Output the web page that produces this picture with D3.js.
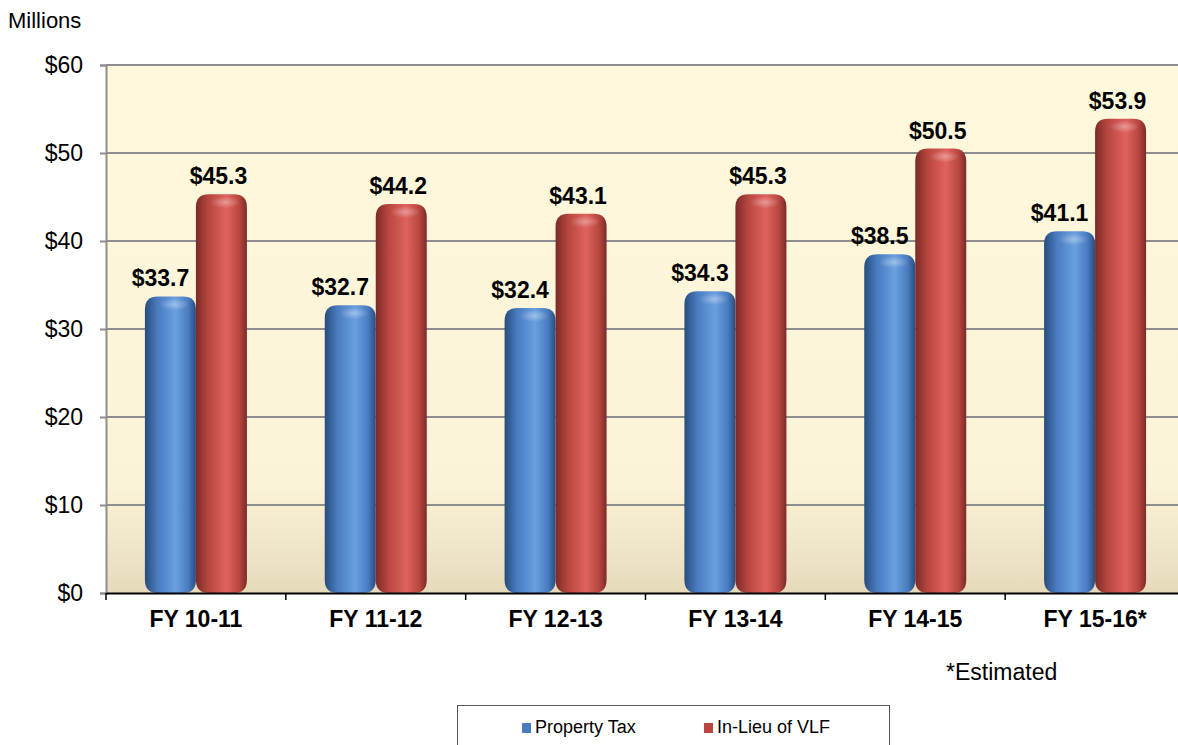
<!DOCTYPE html>
<html>
<head>
<meta charset="utf-8">
<script src="https://cdn.jsdelivr.net/npm/d3@7"></script>
<style>
  body { margin: 0; background: #fff; }
  svg { display: block; font-family: "Liberation Sans", Arial, sans-serif; }
</style>
</head>
<body>
<svg id="chart" width="1178" height="745"></svg>
<script>
// chart data
var years = ["FY 10-11", "FY 11-12", "FY 12-13", "FY 13-14", "FY 14-15", "FY 15-16*"];
var propertyTax = [33.7, 32.7, 32.4, 34.3, 38.5, 41.1];
var inLieuVLF = [45.3, 44.2, 43.1, 45.3, 50.5, 53.9];
var seriesNames = ["Property Tax", "In-Lieu of VLF"];
var yTicks = [0, 10, 20, 30, 40, 50, 60];

var svg = d3.select("#chart");
var plotLeft = 106, plotRight = 1185, plotTop = 65, plotBottom = 593;

var x = d3.scaleBand().domain(years).range([plotLeft, plotRight]).paddingInner(0).paddingOuter(0);
var inner = d3.scaleBand().domain([0, 1]).range([0, 102]);
var y = d3.scaleLinear().domain([0, 60]).range([plotBottom, plotTop]);

var defs = svg.append("defs");

// plot background, pale yellow fading to tan at the base
var bg = defs.append("linearGradient").attr("id", "bg")
  .attr("x1", 0).attr("y1", 0).attr("x2", 0).attr("y2", 1);
bg.append("stop").attr("offset", "0").attr("stop-color", "#fef8dc");
bg.append("stop").attr("offset", "0.8").attr("stop-color", "#fbf3d7");
bg.append("stop").attr("offset", "1").attr("stop-color", "#e6dabb");

// cylinder shading for each series
function barGrad(id, dark, mid, light) {
  var g = defs.append("linearGradient").attr("id", id)
    .attr("x1", 0).attr("y1", 0).attr("x2", 1).attr("y2", 0);
  g.append("stop").attr("offset", "0").attr("stop-color", dark);
  g.append("stop").attr("offset", "0.25").attr("stop-color", mid);
  g.append("stop").attr("offset", "0.6").attr("stop-color", light);
  g.append("stop").attr("offset", "0.85").attr("stop-color", mid);
  g.append("stop").attr("offset", "1").attr("stop-color", dark);
}
barGrad("blue", "#274d7e", "#4a7cc0", "#6a9fe0");
barGrad("red", "#7c2a28", "#b8473f", "#e0625e");

var hl = defs.append("radialGradient").attr("id", "hl")
  .attr("cx", 0.55).attr("cy", 0.5).attr("r", 0.5);
hl.append("stop").attr("offset", "0").attr("stop-color", "#fff").attr("stop-opacity", 0.35);
hl.append("stop").attr("offset", "1").attr("stop-color", "#fff").attr("stop-opacity", 0);

svg.append("rect")
  .attr("x", plotLeft).attr("y", plotTop)
  .attr("width", plotRight - plotLeft).attr("height", plotBottom - plotTop)
  .attr("fill", "url(#bg)");

// gridlines
svg.append("g").selectAll("line")
  .data(yTicks.filter(function (d) { return d > 0; }))
  .join("line")
  .attr("x1", plotLeft).attr("x2", plotRight)
  .attr("y1", function (d) { return y(d); })
  .attr("y2", function (d) { return y(d); })
  .attr("stroke", "#8e8e8e").attr("stroke-width", 2);

// y axis
var yAxis = svg.append("g")
  .attr("transform", "translate(" + plotLeft + ",0)")
  .call(d3.axisLeft(y).tickValues(yTicks).tickSize(6).tickPadding(17)
    .tickFormat(function (d) { return "$" + d; }));
yAxis.select(".domain").attr("stroke", "#8e8e8e").attr("stroke-width", 2);
yAxis.selectAll(".tick line").attr("stroke", "#8e8e8e").attr("stroke-width", 2);
yAxis.selectAll("text").attr("font-size", 23).attr("fill", "#000")
  .attr("font-family", "Liberation Sans, Arial, sans-serif");

// bars
function roundedBar(x0, w, y0, y1, r) {
  var p = d3.path();
  p.moveTo(x0, y1 - r);
  p.lineTo(x0, y0 + r);
  p.quadraticCurveTo(x0, y0, x0 + r, y0);
  p.lineTo(x0 + w - r, y0);
  p.quadraticCurveTo(x0 + w, y0, x0 + w, y0 + r);
  p.lineTo(x0 + w, y1 - r);
  p.quadraticCurveTo(x0 + w, y1, x0 + w - r, y1);
  p.lineTo(x0 + r, y1);
  p.quadraticCurveTo(x0, y1, x0, y1 - r);
  p.closePath();
  return p.toString();
}

var series = [propertyTax, inLieuVLF];
var fills = ["url(#blue)", "url(#red)"];
var labelShift = [-10, -3]; // labels sit a little left of the bar centres
var barsG = svg.append("g");
series.forEach(function (vals, si) {
  var data = years.map(function (yr, i) { return { yr: yr, v: vals[i] }; });
  var bx = function (d) { return x(d.yr) + (x.bandwidth() - 102) / 2 + inner(si); };
  var bw = inner.bandwidth();
  barsG.append("g").selectAll("path")
    .data(data).join("path")
    .attr("d", function (d) { return roundedBar(bx(d), bw, y(d.v), plotBottom, 13); })
    .attr("fill", fills[si]);
  barsG.append("g").selectAll("ellipse")
    .data(data).join("ellipse")
    .attr("cx", function (d) { return bx(d) + bw * 0.55; })
    .attr("cy", function (d) { return y(d.v) + 8; })
    .attr("rx", bw * 0.3).attr("ry", 6)
    .attr("fill", "url(#hl)");
  svg.append("g").selectAll("text")
    .data(data).join("text")
    .attr("x", function (d) { return bx(d) + bw / 2 + labelShift[si]; })
    .attr("y", function (d) { return y(d.v) - 10; })
    .attr("text-anchor", "middle")
    .attr("font-size", 23).attr("font-weight", "bold")
    .text(function (d) { return "$" + d.v.toFixed(1); });
});

// x axis
var xAxis = svg.append("g")
  .attr("transform", "translate(0," + plotBottom + ")")
  .call(d3.axisBottom(x).tickSize(0).tickPadding(18));
xAxis.select(".domain").attr("stroke", "#000").attr("stroke-width", 2);
xAxis.selectAll("text").attr("font-size", 23).attr("font-weight", "bold").attr("fill", "#000")
  .attr("font-family", "Liberation Sans, Arial, sans-serif");
svg.append("g").selectAll("line")
  .data(years)
  .join("line")
  .attr("x1", function (d) { return x(d); })
  .attr("x2", function (d) { return x(d); })
  .attr("y1", plotBottom).attr("y2", plotBottom + 7)
  .attr("stroke", "#000").attr("stroke-width", 1.5);

svg.append("text").attr("x", 8).attr("y", 28).attr("font-size", 22).text("Millions");
svg.append("text").attr("x", 946).attr("y", 680).attr("font-size", 23).text("*Estimated");

// legend
svg.append("rect").attr("x", 457.5).attr("y", 705.5).attr("width", 432).attr("height", 60)
  .attr("fill", "#fff").attr("stroke", "#555").attr("stroke-width", 1);
var legX = [522, 704];
var legFill = ["#4a7cc0", "#b8473f"];
seriesNames.forEach(function (name, i) {
  svg.append("rect").attr("x", legX[i]).attr("y", 723).attr("width", 9).attr("height", 10)
    .attr("fill", legFill[i]);
  svg.append("text").attr("x", legX[i] + 13).attr("y", 733).attr("font-size", 18).text(name);
});
</script>
</body>
</html>
